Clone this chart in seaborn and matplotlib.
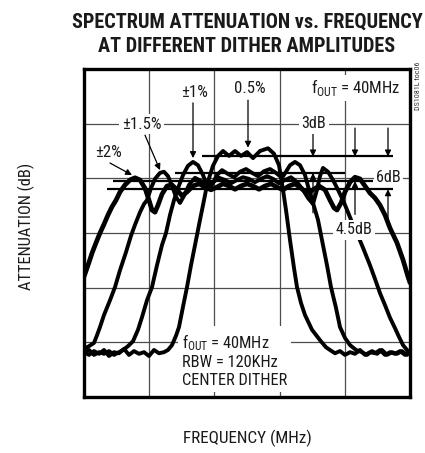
import numpy as np
import pandas as pd
import matplotlib
matplotlib.use("Agg")
import matplotlib.pyplot as plt
import seaborn as sns
from matplotlib import font_manager

# ---- values (frequency in MHz, attenuation in dB) ----
X_LIM = (38.37, 41.63)
Y_LIM = (-60.0, 0.0)

FREQ_05 = [38.37, 38.42, 38.47, 38.52, 38.57, 38.62, 38.67, 38.72, 38.77, 38.82, 38.87, 38.92,
           38.97, 39.02, 39.07, 39.12, 39.17,
           39.21, 39.25, 39.29, 39.32, 39.36, 39.40, 39.44, 39.49, 39.53, 39.57, 39.60, 39.63,
           39.66, 39.71, 39.76, 39.82, 39.88, 39.94, 40.00, 40.06, 40.13, 40.21, 40.27, 40.32,
           40.36, 40.39, 40.43, 40.47, 40.50, 40.54, 40.58, 40.65, 40.73, 40.79, 40.83,
           40.88, 40.93, 40.98, 41.03, 41.08, 41.13, 41.18, 41.23, 41.28, 41.33, 41.38, 41.43,
           41.48, 41.53, 41.58, 41.63]
ATT_05 = [-51.8, -52.3, -51.6, -52.1, -51.4, -52.5, -51.8, -52.0, -51.2, -52.3, -51.6, -52.1,
          -51.8, -52.5, -51.4, -52.0, -51.8,
          -51.4, -50.5, -48.8, -47.2, -43.5, -39.9, -35.9, -31.3, -27.6, -24.0, -21.2, -19.4,
          -17.7, -15.9, -15.0, -15.9, -15.0, -15.9, -15.2, -16.3, -15.0, -14.5, -15.5, -17.6,
          -22.1, -25.8, -31.3, -36.4, -39.9, -42.8, -45.0, -47.7, -49.6, -50.9, -51.4,
          -52.0, -51.6, -52.3, -51.8, -52.1, -51.4, -52.3, -51.8, -52.0, -51.4, -52.3, -51.8,
          -52.1, -51.6, -52.3, -51.8]

FREQ_10 = [38.37, 38.42, 38.47, 38.52, 38.57, 38.62, 38.67, 38.72,
           38.76, 38.81, 38.86, 38.91, 38.95, 39.00, 39.05, 39.10, 39.15, 39.19,
           39.23, 39.27, 39.31, 39.36, 39.41, 39.46, 39.51, 39.56, 39.61, 39.65,
           39.70, 39.75, 39.81, 39.87, 39.93, 39.99, 40.05, 40.11, 40.17, 40.23,
           40.29, 40.35, 40.39, 40.43, 40.48, 40.53, 40.58, 40.62, 40.66, 40.71,
           40.75, 40.80, 40.84, 40.89, 40.93, 40.98, 41.03, 41.09, 41.15,
           41.20, 41.25, 41.30, 41.35, 41.40, 41.45, 41.50, 41.55, 41.60, 41.63]
ATT_10 = [-52.0, -51.4, -52.3, -51.8, -52.1, -51.6, -52.3, -51.8,
          -51.4, -50.7, -49.8, -47.7, -45.4, -42.3, -39.9, -35.9, -32.2, -30.0,
          -26.7, -24.0, -21.8, -19.4, -17.7, -17.0, -17.6, -19.4, -21.8, -21.2,
          -19.4, -18.5, -19.2, -19.8, -18.8, -18.3, -19.0, -19.6, -18.7, -18.3,
          -19.0, -19.9, -18.8, -17.6, -17.0, -17.6, -19.4, -22.1, -24.5, -27.6,
          -31.3, -35.9, -39.9, -43.7, -47.2, -49.2, -50.5, -51.4, -51.8,
          -52.3, -51.6, -52.1, -51.4, -52.3, -51.8, -52.1, -51.6, -52.3, -51.8]

FREQ_15 = [38.37, 38.42, 38.47, 38.50, 38.53, 38.57, 38.63, 38.68, 38.73, 38.79,
           38.84, 38.88, 38.93, 38.97, 39.00, 39.04, 39.08, 39.13, 39.17, 39.21,
           39.25, 39.29, 39.33, 39.37, 39.42, 39.48, 39.54, 39.60, 39.66, 39.72,
           39.78, 39.84, 39.90, 39.96, 40.02, 40.08, 40.14, 40.20, 40.26, 40.32,
           40.38, 40.44, 40.50, 40.56, 40.61, 40.66, 40.70, 40.73, 40.76, 40.81,
           40.86, 40.91, 40.96, 41.01, 41.06, 41.11, 41.16, 41.23, 41.28, 41.33,
           41.38, 41.43, 41.48, 41.52, 41.56, 41.60, 41.63]
ATT_15 = [-51.2, -50.7, -50.1, -48.7, -47.2, -45.0, -42.3, -39.9, -36.8, -33.5,
          -30.5, -28.5, -26.2, -24.7, -24.0, -21.8, -20.1, -19.0, -18.8, -19.6,
          -21.4, -23.4, -24.5, -23.2, -21.2, -19.9, -20.5, -21.4, -20.7, -19.9,
          -20.3, -20.9, -20.3, -19.8, -20.1, -20.7, -20.1, -19.6, -20.1, -20.9,
          -20.3, -19.8, -20.7, -22.1, -23.6, -24.7, -22.1, -19.6, -18.1, -18.8,
          -20.3, -22.1, -24.0, -26.2, -28.5, -30.5, -32.7, -35.9, -38.4, -41.0,
          -43.2, -45.5, -47.4, -49.0, -50.5, -51.4, -51.8]

FREQ_20 = [38.37, 38.41, 38.45, 38.49, 38.53, 38.57, 38.61, 38.65, 38.69, 38.73,
           38.78, 38.83, 38.88, 38.93, 38.98, 39.02, 39.05, 39.08, 39.11, 39.15,
           39.20, 39.25, 39.30, 39.35, 39.40, 39.46, 39.52, 39.58, 39.64, 39.70,
           39.76, 39.82, 39.88, 39.94, 40.00, 40.06, 40.12, 40.18, 40.24, 40.30,
           40.36, 40.42, 40.48, 40.54, 40.60, 40.66, 40.72, 40.78, 40.83, 40.87,
           40.90, 40.94, 40.98, 41.03, 41.08, 41.13, 41.18, 41.23, 41.28, 41.33,
           41.38, 41.43, 41.50, 41.56, 41.61, 41.63]
ATT_20 = [-38.0, -35.9, -33.7, -31.8, -30.0, -28.4, -26.7, -25.2, -24.0, -22.5,
          -21.2, -20.3, -19.9, -20.3, -21.8, -24.0, -25.8, -26.2, -24.9, -22.9,
          -21.4, -21.2, -22.1, -23.2, -22.5, -21.4, -21.0, -21.6, -22.1, -21.6,
          -21.0, -21.4, -22.0, -21.4, -21.0, -21.4, -22.0, -21.4, -21.0, -21.6,
          -22.1, -21.4, -21.0, -21.8, -22.7, -22.1, -21.4, -22.1, -24.0, -25.4,
          -25.8, -24.5, -22.5, -20.7, -19.8, -20.1, -21.4, -22.7, -23.6, -24.9,
          -26.7, -29.1, -31.8, -34.9, -38.0, -39.1]

DITHER = ["0.5%", "±1%", "±1.5%", "±2%"]
# flat-top reference levels (dB) and the span each marker line covers (MHz)
LEVELS = [-16.0, -19.0, -20.5, -22.0]
LEVEL_START = [39.55, 39.28, 38.66, 38.60]
LEVEL_END = [41.46, 40.98, 41.26, 41.46]


def pick_narrow_font():
    """Prefer a condensed sans face; fall back to Liberation Sans."""
    fonts = font_manager.fontManager.ttflist
    for want in ("Liberation Sans Narrow", "Roboto Condensed", "Open Sans Condensed",
                 "Noto Sans Condensed", "DejaVu Sans Condensed"):
        if any(f.name == want for f in fonts):
            return want, "normal"
    for want in ("Noto Sans", "DejaVu Sans", "Open Sans", "Roboto"):
        if any(f.name == want and str(f.stretch) in ("condensed", "semi-condensed")
               for f in fonts):
            return want, "condensed"
    return "Liberation Sans", "normal"


# ---- fonts ----
sns.set_style("white")
NARROW, STRETCH = pick_narrow_font()
plt.rcParams["font.family"] = [NARROW, "DejaVu Sans"]
plt.rcParams["font.stretch"] = STRETCH
plt.rcParams["mathtext.fontset"] = "custom"
plt.rcParams["mathtext.rm"] = NARROW
INK = "#1a1a1a"

frames = []
for name, f, a in zip(DITHER, [FREQ_05, FREQ_10, FREQ_15, FREQ_20],
                      [ATT_05, ATT_10, ATT_15, ATT_20]):
    frames.append(pd.DataFrame({"freq": f, "atten": a, "dither": name}))
df = pd.concat(frames, ignore_index=True)

fig = plt.figure(figsize=(4.25, 4.53), dpi=100)
ax = fig.add_axes([84 / 425, 1 - 397 / 453, 326 / 425, 328 / 453])

sns.lineplot(data=df, x="freq", y="atten", size="dither",
             sizes={"0.5%": 2.8, "±1%": 2.8, "±1.5%": 2.8, "±2%": 3.4},
             estimator=None, sort=False, color="black", legend=False,
             ax=ax, zorder=4)

ax.hlines(LEVELS, LEVEL_START, LEVEL_END, colors="black", lw=1.6, zorder=3)

ax.set_xlim(*X_LIM)
ax.set_ylim(*Y_LIM)
ax.set_xticks(np.linspace(*X_LIM, 6))
ax.set_yticks(np.linspace(*Y_LIM, 7))
ax.set_xticklabels([])
ax.set_yticklabels([])
ax.tick_params(length=0)
ax.grid(True, color="#4d4d4d", lw=0.9)
ax.set_axisbelow(True)
for s in ax.spines.values():
    s.set_color("black")
    s.set_linewidth(2.4)

box = dict(facecolor="white", edgecolor="none", pad=1.5)
lab = dict(color=INK, ha="center", va="center", bbox=box, zorder=2.5)

# dither labels
fout = ax.text(41.09, -3.4, r"f$_\mathrm{OUT}$ = 40MHz", **lab)
pct = [ax.text(38.61, -15.3, "±2%", **lab),
       ax.text(38.945, -10.1, "±1.5%", **lab),
       ax.text(39.48, -4.3, "±1%", **lab),
       ax.text(40.03, -3.6, "0.5%", **lab),
       fout]

arrow = dict(arrowstyle="-|>", color="black", lw=0.9, mutation_scale=9,
             shrinkA=0, shrinkB=0)
pointers = [((38.63, -17.2), (38.85, -19.4)),
            ((38.98, -12.1), (39.13, -18.5)),
            ((39.46, -6.2), (39.46, -16.3)),
            ((40.01, -5.7), (40.01, -14.4)),
            # level-difference markers
            ((40.66, -11.8), (40.66, -16.0)),
            ((40.66, -26.3), (40.66, -19.0)),
            ((41.08, -10.8), (41.08, -16.0)),
            ((41.08, -26.6), (41.08, -20.5)),
            ((41.41, -10.8), (41.41, -16.0)),
            ((41.41, -27.3), (41.41, -22.0))]
for tail, head in pointers:
    ax.annotate("", xy=head, xytext=tail, arrowprops=arrow, zorder=5)

# level-difference labels sit on top of the traces, as in the scope shot
top = dict(lab, zorder=6)
db45 = ax.text(41.07, -29.4, "4.5dB", **top)
dbs = [ax.text(40.67, -10.0, "3dB", **top),
       ax.text(41.415, -19.8, "6dB", **top),
       db45]

note = ax.text(39.35, -53.2, "f$_\\mathrm{OUT}$ = 40MHz\nRBW = 120KHz\nCENTER DITHER",
               color=INK, ha="left", va="center", linespacing=1.2,
               bbox=dict(facecolor="white", edgecolor="none", pad=2.5), zorder=2.5)

title = ax.set_title("SPECTRUM ATTENUATION vs. FREQUENCY\nAT DIFFERENT DITHER AMPLITUDES",
                     fontsize=14, fontweight="bold", color=INK, pad=12, linespacing=1.4)
xlab = ax.set_xlabel("FREQUENCY (MHz)", fontsize=12, color=INK)
ax.xaxis.set_label_coords(0.5, -0.10)
ylab = ax.set_ylabel("ATTENUATION (dB)", fontsize=12, color=INK)
ax.yaxis.set_label_coords(-0.15, 0.52)
tag = fig.text(418 / 425, 1 - 86 / 453, "DS1081L toc06", rotation=90, fontsize=6.5,
               color="#333333", ha="center", va="center")

# size each group of texts so its key text spans the same pixels as in the reference
renderer = fig.canvas.get_renderer()


def fit_group(key, target, group, along="width"):
    ext = key.get_window_extent(renderer)
    size = key.get_fontsize() * target / getattr(ext, along)
    for t in group:
        t.set_fontsize(size)


fit_group(fout, 90, pct)
fit_group(db45, 37, dbs)
fit_group(note, 106, [note])
fit_group(title, 354, [title])
fit_group(xlab, 128, [xlab])
fit_group(ylab, 127, [ylab], along="height")
fit_group(tag, 48, [tag], along="height")

fig.savefig("out.png", dpi=100)
